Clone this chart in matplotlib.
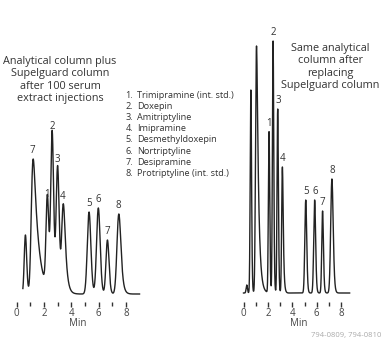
import numpy as np
import matplotlib
matplotlib.use('Agg')
import matplotlib.pyplot as plt

plt.rcParams['font.family'] = ['Open Sans', 'DejaVu Sans']

# Compuestos
compuestos = ['Trimipramine (int. std.)', 'Doxepin', 'Amitriptyline', 'Imipramine',
              'Desmethyldoxepin', 'Nortriptyline', 'Desipramine',
              'Protriptyline (int. std.)']

# Cromatograma 1: columna analitica + Supelguard tras 100 inyecciones
t1 = [0.6, 1.08, 2.2, 2.55, 2.95, 3.33, 5.25, 5.93, 6.6, 7.4]
h1 = [59, 135, 91, 159, 126, 89, 82, 86, 54, 80]
s1 = [0.08, 0.1, 0.09, 0.095, 0.1, 0.1, 0.12, 0.12, 0.1, 0.12]
tau1 = [0.05, 0.35, 0.06, 0.06, 0.06, 0.15, 0.06, 0.06, 0.06, 0.12]
etiq1 = ['', '7', '1', '2', '3', '4', '5', '6', '7', '8']
rango1 = (0.45, 9.0)

# Cromatograma 2: tras reemplazar la Supelguard
t2 = [0.25, 0.58, 1.0, 2.07, 2.4, 2.78, 3.15, 5.07, 5.8, 6.45, 7.2]
h2 = [8, 203, 247, 161, 252, 184, 126, 93, 93, 82, 114]
s2 = [0.05, 0.05, 0.06, 0.05, 0.05, 0.05, 0.05, 0.07, 0.07, 0.06, 0.09]
tau2 = [0.02, 0.03, 0.15, 0.03, 0.03, 0.03, 0.06, 0.04, 0.04, 0.04, 0.06]
etiq2 = ['', '', '', '1', '2', '3', '4', '5', '6', '7', '8']
rango2 = (0.0, 8.7)


def pico(x, t, h, s, tau):
    # gaussiana con cola exponencial, escalada a la altura h
    dx = x[1] - x[0]
    g = np.exp(-0.5 * ((x - t) / s) ** 2)
    k = np.arange(0, 8 * tau, dx)
    e = np.exp(-k / tau)
    y = np.convolve(g, e)[:len(x)]
    return h * y / y.max()


def cromatograma(ax, t, h, s, tau, etiq, rango, dy):
    x = np.linspace(-1, 10, 4000)
    y = np.zeros_like(x)
    for i in range(len(t)):
        y += pico(x, t[i], h[i], s[i], tau[i])
    m = (x >= rango[0]) & (x <= rango[1])
    ax.plot(x[m], y[m], color='#222222', lw=1.0)
    for i in range(len(t)):
        if etiq[i]:
            ax.text(t[i] + 0.05, h[i] + dy, etiq[i], ha='center', va='bottom',
                    fontsize=7, color='#333333')
    ax.set_xlim(-0.5, 9.5)
    ax.set_xticks([0, 2, 4, 6, 8])
    ax.set_xticks([1, 3, 5, 7], minor=True)
    ax.tick_params(axis='x', which='major', length=3.5, width=1, color='#333333',
                   labelsize=7, labelcolor='#444444', pad=1)
    ax.tick_params(axis='x', which='minor', length=2.8, width=1, color='#333333')
    ax.set_yticks([])
    ax.set_xlabel('Min', fontsize=7, color='#444444', labelpad=-1)
    for sp in ax.spines.values():
        sp.set_visible(False)
    ax.patch.set_alpha(0)


fig = plt.figure(figsize=(3.81, 3.40), dpi=100)
W, H = 381, 340

ax1 = fig.add_axes([(16.7 - 0.5 * 13.65) / W, 1 - 302 / H, 10 * 13.65 / W, 192 / H])
ax1.set_ylim(-8, 184)
cromatograma(ax1, t1, h1, s1, tau1, etiq1, rango1, 3)

ax2 = fig.add_axes([(243.5 - 0.5 * 12.2) / W, 1 - 302 / H, 10 * 12.2 / W, 272 / H])
ax2.set_ylim(-9, 263)
cromatograma(ax2, t2, h2, s2, tau2, etiq2, rango2, 3)

fig.text(60 / W, 1 - 80 / H,
         'Analytical column plus\nSupelguard column\nafter 100 serum\nextract injections',
         ha='center', va='center', fontsize=7.8, color='#333333', linespacing=1.2)

fig.text(330 / W, 1 - 67 / H,
         'Same analytical\ncolumn after\nreplacing\nSupelguard column',
         ha='center', va='center', fontsize=7.8, color='#333333', linespacing=1.2)

for i, c in enumerate(compuestos):
    y = 1 - (95 + i * 11.2) / H
    fig.text(133 / W, y, f'{i + 1}.', ha='right', va='center', fontsize=6.6, color='#333333')
    fig.text(137 / W, y, c, ha='left', va='center', fontsize=6.6, color='#333333')

fig.text(381 / W, 1 - 336 / H, '794-0809, 794-0810', ha='right', va='center',
         fontsize=5.5, color='#aaaaaa')

fig.savefig('out.png', dpi=100)
